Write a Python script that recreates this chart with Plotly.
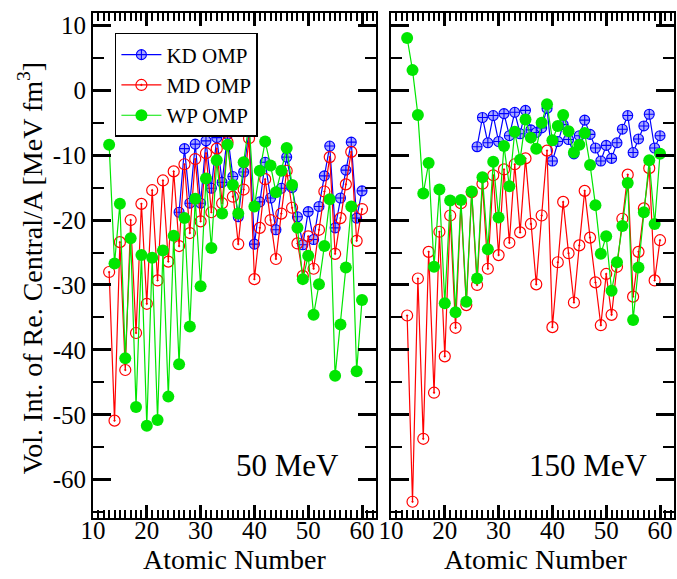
import plotly.graph_objects as go

# ---------------- data ----------------
Z_all = list(range(13, 61))
Z_kd = list(range(26, 61))

# 50 MeV panel
kd_50 = [-18.8, -9.0, -17.4, -8.3, -17.4, -7.8, -15.1, -7.3, -14.2, -6.8,
         -13.3, -19.5, -12.6, -6.2, -23.7, -17.2, -11.1, -16.6, -21.5, -15.1,
         -10.3, -15.0, -19.5, -23.8, -18.7, -23.0, -17.9, -13.2, -8.6, -21.2,
         -16.6, -12.3, -8.0, -19.7, -15.5]
md_50 = [-28.0, -50.9, -23.4, -43.1, -20.0, -37.4, -17.5, -32.9, -15.4, -29.3,
         -13.9, -26.4, -12.5, -24.0, -11.4, -22.0, -10.6, -20.2, -9.7, -18.8,
         -9.0, -17.4, -8.0, -16.4, -23.7, -15.3, -7.4, -29.1, -21.2, -13.7,
         -20.0, -26.0, -19.0, -12.4, -18.1, -23.6, -28.6, -22.5, -27.5, -21.5,
         -15.6, -10.3, -25.2, -19.7, -14.5, -9.5, -23.2, -18.3]
wp_50 = [-8.4, -26.7, -17.5, -41.3, -22.8, -48.8, -25.4, -51.7, -25.8, -50.8,
         -24.7, -47.2, -22.4, -42.2, -19.7, -36.4, -16.7, -30.2, -13.6, -24.3,
         -10.8, -19.0, -8.4, -14.6, -19.0, -11.1, -5.0, -17.9, -12.4, -7.9,
         -11.6, -15.7, -12.4, -8.9, -14.6, -21.2, -29.1, -25.5, -34.6, -29.9,
         -24.0, -16.8, -44.0, -36.1, -27.3, -17.9, -43.3, -32.3]

# 150 MeV panel
kd_150 = [-8.7, -4.2, -8.1, -3.9, -7.9, -3.6, -7.0, -3.4, -6.7, -3.1,
          -6.1, -6.5, -5.8, -2.8, -10.9, -7.9, -5.3, -7.6, -9.8, -7.0,
          -4.6, -6.8, -8.9, -10.9, -8.5, -10.5, -8.1, -6.0, -3.9, -9.6,
          -7.5, -5.5, -3.7, -8.9, -7.0]
md_150 = [-34.7, -63.4, -29.0, -53.7, -24.9, -46.6, -21.8, -41.0, -19.3, -36.6,
          -17.4, -33.1, -15.7, -30.0, -14.4, -27.5, -13.1, -25.4, -12.2, -23.5,
          -11.4, -21.9, -10.5, -20.6, -29.9, -19.3, -9.3, -36.5, -26.5, -17.2,
          -25.1, -32.7, -23.9, -15.5, -22.7, -29.6, -36.2, -28.3, -34.6, -27.2,
          -19.8, -13.0, -31.8, -24.9, -18.2, -12.0, -29.3, -23.1]
wp_150 = [8.05, 3.1, -3.8, -15.9, -11.2, -27.2, -15.3, -32.8, -17.0, -34.2,
          -16.9, -32.6, -15.6, -29.0, -13.4, -24.5, -11.0, -19.6, -8.6, -14.8,
          -6.4, -10.7, -4.5, -7.3, -9.0, -5.0, -2.15, -7.7, -5.5, -3.8,
          -6.3, -9.6, -8.4, -6.6, -11.5, -17.7, -25.2, -22.5, -30.9, -26.5,
          -20.9, -14.3, -35.4, -27.3, -18.8, -10.8, -20.6, -9.8]

x_ticks = [10, 20, 30, 40, 50, 60]
y_ticks = [10, 0, -10, -20, -30, -40, -50, -60]
y_ticktext = ["10", "0", "-10", "-20", "-30", "-40", "-50", "-60"]
panel_labels = ["50 MeV", "150 MeV"]
series_names = ["KD OMP", "MD OMP", "WP OMP"]

FONT = "Liberation Serif"
BLUE = "#0000ff"
RED = "#ff0000"
GREEN = "#00e600"

fig = go.Figure()

panels = [("x", "y", kd_50, md_50, wp_50, True),
          ("x2", "y2", kd_150, md_150, wp_150, False)]
for xa, ya, kd, md, wp, show in panels:
    fig.add_trace(go.Scatter(
        x=Z_kd, y=kd, mode="lines+markers", name=series_names[0],
        xaxis=xa, yaxis=ya, showlegend=show,
        line=dict(color=BLUE, width=1.2),
        marker=dict(symbol="circle-cross", size=10, color="#a8a8ff",
                    line=dict(color=BLUE, width=1.1))))
    fig.add_trace(go.Scatter(
        x=Z_all, y=md, mode="lines+markers", name=series_names[1],
        xaxis=xa, yaxis=ya, showlegend=show,
        line=dict(color=RED, width=1.2),
        marker=dict(symbol="circle-open-dot", size=11, color=RED,
                    line=dict(color=RED, width=1.2))))
    fig.add_trace(go.Scatter(
        x=Z_all, y=wp, mode="lines+markers", name=series_names[2],
        xaxis=xa, yaxis=ya, showlegend=show,
        line=dict(color=GREEN, width=1.2),
        marker=dict(symbol="circle", size=12, color=GREEN)))

xcommon = dict(range=[10, 62.6], tickvals=x_ticks, ticks="inside", ticklen=13,
               tickwidth=2.5, tickcolor="black", showline=True, linewidth=2,
               linecolor="black", mirror="allticks", showgrid=False, zeroline=False,
               ticklabelstandoff=-11,
               tickfont=dict(family=FONT, size=25, color="black"),
               minor=dict(dtick=1, tick0=10, ticks="inside", ticklen=8,
                          tickwidth=1.5, tickcolor="black", showgrid=False))
ycommon = dict(range=[-65.9, 11.9], tickvals=y_ticks, ticktext=y_ticktext,
               ticks="inside", ticklen=18,
               tickwidth=2.5, tickcolor="black", showline=True, linewidth=2,
               linecolor="black", mirror="allticks", showgrid=False, zeroline=False,
               tickfont=dict(family=FONT, size=25, color="black"),
               minor=dict(dtick=5, tick0=0, ticks="inside", ticklen=11,
                          tickwidth=1.5, tickcolor="black", showgrid=False))

fig.update_layout(
    width=677, height=579,
    margin=dict(l=93, r=1, t=13, b=61),
    paper_bgcolor="white", plot_bgcolor="white",
    xaxis=dict(domain=[0, 0.4871], anchor="y", **xcommon),
    xaxis2=dict(domain=[0.5129, 1.0], anchor="y2", **xcommon),
    yaxis=dict(domain=[0, 1], anchor="x", **ycommon),
    yaxis2=dict(domain=[0, 1], anchor="x2", showticklabels=False, **ycommon),
    legend=dict(x=0.0377, y=0.9604, xanchor="left", yanchor="top",
                bordercolor="black", borderwidth=1.5, bgcolor="white",
                font=dict(family=FONT, size=21, color="black"),
                tracegroupgap=0, itemwidth=40),
    showlegend=True,
)

annotations = [
    dict(text=panel_labels[0], x=0.3345, y=0.103, xref="paper", yref="paper",
         xanchor="center", yanchor="middle",
         showarrow=False, font=dict(family=FONT, size=31, color="black")),
    dict(text=panel_labels[1], x=0.8525, y=0.103, xref="paper", yref="paper",
         xanchor="center", yanchor="middle",
         showarrow=False, font=dict(family=FONT, size=31, color="black")),
    dict(text="Atomic Number", x=0.2436, y=-0.082, xref="paper", yref="paper",
         xanchor="center", yanchor="middle",
         showarrow=False, font=dict(family=FONT, size=28, color="black")),
    dict(text="Atomic Number", x=0.762, y=-0.082, xref="paper", yref="paper",
         xanchor="center", yanchor="middle",
         showarrow=False, font=dict(family=FONT, size=28, color="black")),
    dict(text="Vol. Int. of Re. Central/A [MeV fm<sup>3</sup>]", x=-0.108, y=0.495,
         xref="paper", yref="paper", textangle=-90, showarrow=False,
         xanchor="center", yanchor="middle",
         font=dict(family=FONT, size=28, color="black")),
]
fig.update_layout(annotations=annotations)

fig.write_html("out.html")
